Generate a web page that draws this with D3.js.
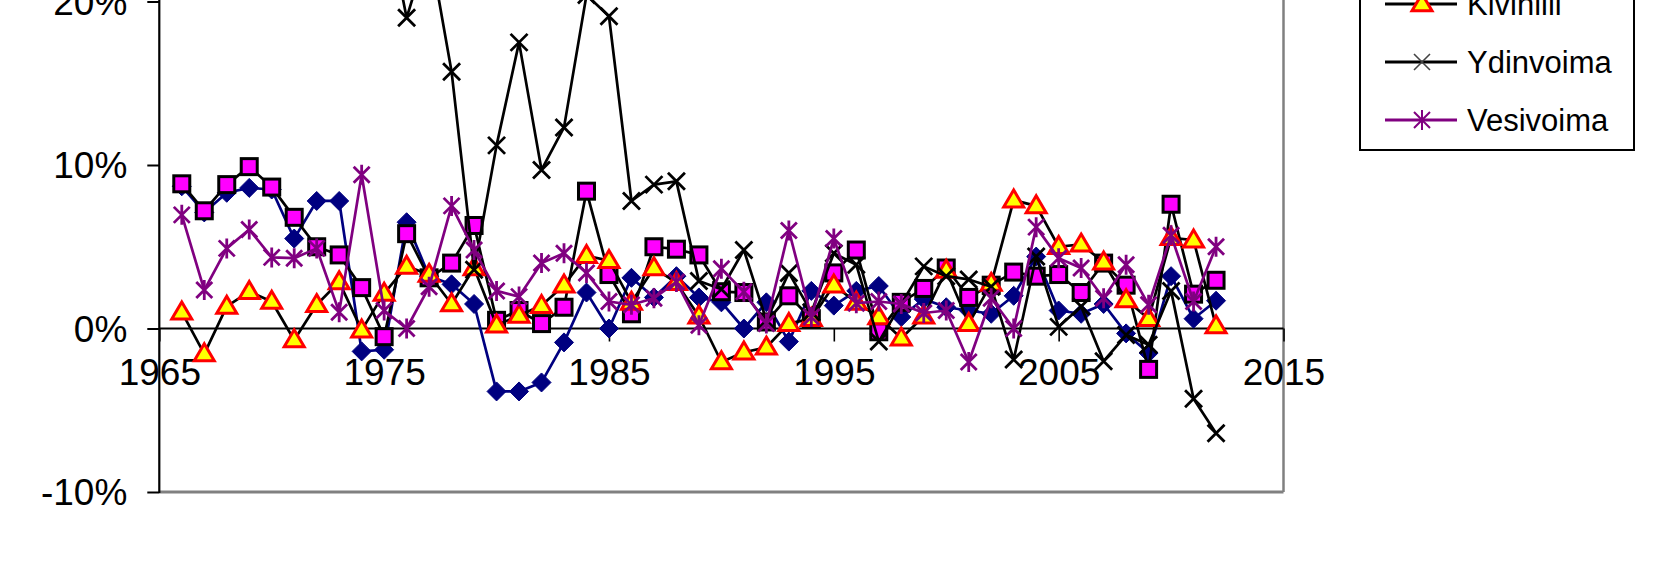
<!DOCTYPE html>
<html><head><meta charset="utf-8">
<script src="https://cdn.jsdelivr.net/npm/d3@7/dist/d3.min.js"></script>
<style>html,body{margin:0;padding:0;background:#fff;overflow:hidden}svg{display:block}</style>
</head><body><svg id="c" width="1654" height="562"></svg>
<script>
const years = d3.range(1966, 2013);
const xTicks = [1965, 1975, 1985, 1995, 2005, 2015];
const yTicks = [-0.1, 0, 0.1, 0.2];
const yTickLabels = ["-10%", "0%", "10%", "20%"];

// series values in percent, one per year 1966..2012
const sarja1 = [8.7,7.1,8.3,8.6,8.5,5.5,7.8,7.8,-1.4,-1.3,6.5,3.2,2.7,1.5,-3.85,-3.85,-3.3,-0.85,2.2,0.0,3.1,1.9,3.2,1.9,1.6,0.0,1.6,-0.8,2.3,1.4,2.3,2.6,0.7,1.8,1.3,1.1,0.9,2.0,4.4,1.1,0.9,1.5,-0.3,-1.5,3.2,0.6,1.7];
const sarja2 = [8.85,7.2,8.8,9.9,8.65,6.8,5.0,4.5,2.5,-0.5,5.8,3.1,4.0,6.3,0.5,1.1,0.3,1.3,8.4,3.3,0.9,5.0,4.85,4.5,2.25,2.2,0.4,2.0,0.6,3.4,4.8,-0.2,1.6,2.45,3.7,1.9,2.65,3.45,3.2,3.3,2.2,4.0,2.65,-2.5,7.6,2.1,2.95];
const kivihiili = [1.0,-1.55,1.35,2.25,1.65,-0.7,1.45,2.85,-0.1,2.15,3.8,3.3,1.5,3.7,0.2,0.8,1.4,2.65,4.45,4.15,1.6,3.7,2.8,0.75,-2.05,-1.45,-1.15,0.3,0.6,2.65,1.6,0.7,-0.6,0.75,3.55,0.3,2.75,7.85,7.5,5.0,5.15,4.05,1.75,0.6,5.55,5.4,0.15];
const ydinvoima = [null,null,null,null,null,null,null,null,null,26,19.0,23.5,15.7,3.6,11.2,17.5,9.7,12.3,20.4,19.1,7.8,8.8,9.0,2.9,2.4,4.8,0.5,3.4,1.0,4.6,3.9,-0.8,1.5,3.8,3.2,3.0,2.55,-1.9,4.4,0.1,1.35,-2.0,-0.4,-1.0,2.3,-4.3,-6.4];
const vesivoima = [6.95,2.35,4.9,6.05,4.35,4.3,4.9,1.0,9.4,1.1,0.0,2.55,7.5,4.8,2.3,1.95,4.0,4.6,3.4,1.65,1.45,1.85,2.85,0.2,3.65,2.25,0.3,6.0,0.7,5.5,1.55,1.65,1.5,0.95,1.1,-2.05,1.85,0.0,6.2,4.3,3.7,1.85,3.9,1.45,5.7,1.65,5.0];
const legendNames = ["Kivihiili", "Ydinvoima", "Vesivoima"];

const svg = d3.select("#c");
const FONT = "'Liberation Sans', Arial, sans-serif";
const x = d3.scaleLinear().domain([1965, 2015]).range([159.3, 1283.5]);
const y = d3.scaleLinear().domain([-0.1, 0.2]).range([492, 1.5]);

// plot area borders (gray right & bottom)
svg.append("line").attr("x1", x(2015)).attr("x2", x(2015)).attr("y1", -20).attr("y2", y(-0.1))
  .attr("stroke", "#808080").attr("stroke-width", 2.5);
svg.append("line").attr("x1", x(1965)).attr("x2", x(2015)).attr("y1", y(-0.1)).attr("y2", y(-0.1))
  .attr("stroke", "#808080").attr("stroke-width", 3);

// y axis
const yAxis = d3.axisLeft(y).tickValues(yTicks).tickSize(12).tickPadding(20)
  .tickFormat((d, i) => yTickLabels[i]);
const gy = svg.append("g").attr("transform", `translate(${x(1965)},0)`).call(yAxis);
gy.select(".domain").remove();
gy.selectAll(".tick line").attr("stroke", "#000").attr("stroke-width", 2);
gy.selectAll(".tick text").attr("font-family", FONT).attr("font-size", 37).attr("fill", "#000").attr("dy", "0.34em");
svg.append("line").attr("x1", x(1965)).attr("x2", x(1965)).attr("y1", -20).attr("y2", y(-0.1) + 1)
  .attr("stroke", "#000").attr("stroke-width", 2.2);

// x axis at 0%
const xAxis = d3.axisBottom(x).tickValues(xTicks).tickSize(13).tickPadding(17).tickFormat(d3.format("d"));
const gx = svg.append("g").attr("transform", `translate(0,${y(0)})`).call(xAxis);
gx.select(".domain").remove();
gx.selectAll(".tick line").attr("stroke", "#000").attr("stroke-width", 1.6);
gx.selectAll(".tick text").attr("font-family", FONT).attr("font-size", 37).attr("fill", "#000");
svg.append("line").attr("x1", x(1965)).attr("x2", x(2015)).attr("y1", y(0)).attr("y2", y(0))
  .attr("stroke", "#000").attr("stroke-width", 1.8);

// marker drawers
function diamond(g, cx, cy) {
  const r = 9.5;
  g.append("path").attr("d", `M${cx},${cy - r}L${cx + r},${cy}L${cx},${cy + r}L${cx - r},${cy}Z`)
    .attr("fill", "#000080").attr("stroke", "#000080").attr("stroke-width", 1);
}
function square(g, cx, cy) {
  const s = 16;
  g.append("rect").attr("x", cx - s / 2).attr("y", cy - s / 2).attr("width", s).attr("height", s)
    .attr("fill", "#FF00FF").attr("stroke", "#000").attr("stroke-width", 3);
}
function triangle(g, cx, cy) {
  const w = 10, h = 17;
  g.append("path").attr("d", `M${cx},${cy - h * 0.6}L${cx + w},${cy + h * 0.4}L${cx - w},${cy + h * 0.4}Z`)
    .attr("fill", "#FFFF00").attr("stroke", "#FF0000").attr("stroke-width", 3).attr("stroke-linejoin", "miter");
}
function cross(g, cx, cy, col, sw, r) {
  r = r || 8.5;
  g.append("path").attr("d", `M${cx - r},${cy - r}L${cx + r},${cy + r}M${cx - r},${cy + r}L${cx + r},${cy - r}`)
    .attr("stroke", col || "#000").attr("stroke-width", sw || 2.8).attr("fill", "none");
}
function star(g, cx, cy, sw) {
  const r = 8;
  g.append("path").attr("d", `M${cx - r},${cy - r}L${cx + r},${cy + r}M${cx - r},${cy + r}L${cx + r},${cy - r}M${cx},${cy - r - 2}L${cx},${cy + r + 2}`)
    .attr("stroke", "#800080").attr("stroke-width", sw || 2.8).attr("fill", "none");
}

const series = [
  {vals: sarja1, line: "#000080", marker: diamond},
  {vals: sarja2, line: "#000", marker: square},
  {vals: kivihiili, line: "#000", marker: triangle},
  {vals: ydinvoima, line: "#000", marker: (g, cx, cy) => cross(g, cx, cy)},
  {vals: vesivoima, line: "#800080", marker: (g, cx, cy) => star(g, cx, cy)}
];

const lineGen = d3.line().defined(d => d.v != null).x(d => x(d.yr)).y(d => y(d.v / 100));
series.forEach(s => {
  const data = years.map((yr, i) => ({yr, v: s.vals[i]}));
  const g = svg.append("g");
  g.append("path").datum(data).attr("d", lineGen).attr("fill", "none")
    .attr("stroke", s.line).attr("stroke-width", 2.7).attr("stroke-linejoin", "round");
  data.filter(d => d.v != null).forEach(d => s.marker(g, x(d.yr), y(d.v / 100)));
});

// legend (top part cut off in the reference)
const lg = svg.append("g");
lg.append("rect").attr("x", 1360).attr("y", -200).attr("width", 274).attr("height", 350)
  .attr("fill", "#fff").attr("stroke", "#000").attr("stroke-width", 2);
const legendRows = [
  {name: legendNames[0], col: "#000", mk: (g, cx, cy) => triangle(g, cx, cy)},
  {name: legendNames[1], col: "#000", mk: (g, cx, cy) => cross(g, cx, cy, "#444", 1.6, 8)},
  {name: legendNames[2], col: "#800080", mk: (g, cx, cy) => star(g, cx, cy, 2)}
];
legendRows.forEach((r, i) => {
  const ly = 4 + i * 58;
  lg.append("line").attr("x1", 1385).attr("x2", 1457).attr("y1", ly).attr("y2", ly)
    .attr("stroke", r.col).attr("stroke-width", 3.2);
  r.mk(lg, 1422, ly);
  lg.append("text").attr("x", 1467).attr("y", ly + 10.5).attr("font-family", FONT)
    .attr("font-size", 31).attr("fill", "#000").text(r.name);
});
</script></body></html>
